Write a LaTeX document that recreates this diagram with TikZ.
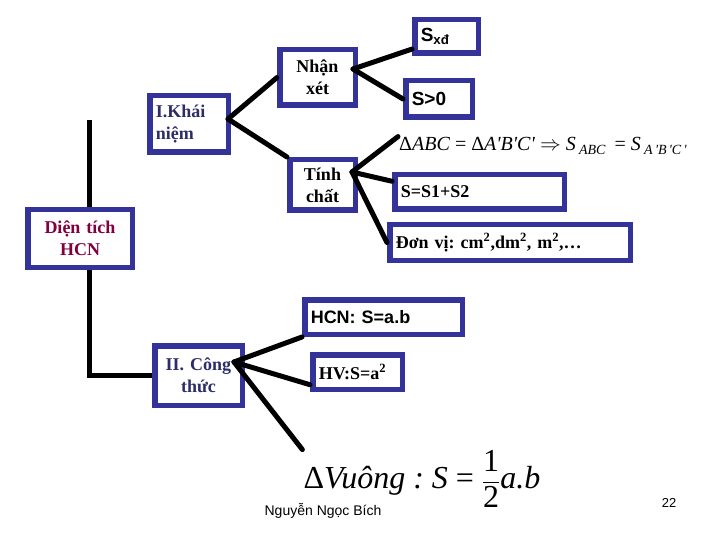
\documentclass[tikz,border=0pt]{standalone}
\usepackage{amsmath}
\usepackage{fontspec}
\setmainfont{Liberation Serif}
\newfontfamily\arial{Liberation Sans}
\usepackage{tikz}
\frenchspacing

\definecolor{boxblue}{RGB}{51,51,153}
\definecolor{navytext}{RGB}{45,45,105}
\definecolor{redtext}{RGB}{128,0,64}

\begin{document}
\begin{tikzpicture}[x=1pt, y=-1pt,
    box/.style={draw=boxblue, line width=5.5pt, fill=white, inner xsep=6pt,
      inner ysep=2pt, font=\fontsize{18}{22}\selectfont\bfseries},
    link/.style={line width=5pt, line cap=round}]
    \useasboundingbox (0,0) rectangle (720,540);
    % Boxes
    \node[box, font=\fontsize{19}{22}\selectfont\arial\bfseries, align=left,
      text width=51.5pt, minimum height=33.5pt] (sxd) at (446.5,36.5)
      {S\textsubscript{x\dj}};
    \node[box, align=center, text width=63.5pt, minimum height=55.5pt]
      (nhanxet) at (317.5,77.5) {Nhận\\xét};
    \node[box, font=\fontsize{19}{22}\selectfont\arial\bfseries, align=left,
      text width=54.5pt, minimum height=36.5pt] (szero) at (439,99) {S>0};
    \node[box, text=navytext, align=left, text width=66.5pt,
      minimum height=56.5pt] (khainiem) at (189,124) {I.Khái\\niệm};
    \node[box, align=center, text width=53.5pt, minimum height=50.5pt]
      (tinhchat) at (322.5,185) {Tính\\chất};
    \node[box, align=left, text width=157.5pt, minimum height=34.5pt]
      (stong) at (479.5,192) {S=S1+S2};
    \node[box, align=left, text width=228.5pt, minimum height=35.5pt]
      (donvi) at (510,242.5)
      {Đơn vị: cm\textsuperscript{2},dm\textsuperscript{2}, m\textsuperscript{2},…};
    \node[box, text=redtext, align=center, text width=92.5pt,
      minimum height=57.5pt] (dientich) at (80,238.5) {Diện tích\\HCN};
    \node[box, font=\fontsize{18}{22}\selectfont\arial\bfseries, align=left,
      text width=145.5pt, minimum height=34.5pt] (hcn) at (383.5,317)
      {HCN: S=a.b};
    \node[box, align=left, text width=77.5pt, minimum height=34.5pt]
      (hv) at (357.5,372) {HV:S=a\textsuperscript{2}};
    \node[box, text=navytext, align=center, text width=75.5pt,
      minimum height=59.5pt] (congthuc) at (198.5,375.5) {II. Công\\thức};
    % Formulas
    \node[anchor=west, inner sep=1pt, font=\fontsize{20}{24}\selectfont]
      (abc) at (398,146)
      {Δ\textit{ABC} = Δ\textit{A\textquotesingle B\textquotesingle C\textquotesingle}
       $\Rightarrow$ \textit{S}\,\textsubscript{\textit{ABC}}\, =
       \textit{S}\,\textsubscript{\textit{A\,\textquotesingle B\,\textquotesingle C\,\textquotesingle}}};
    \node[inner sep=1pt, font=\fontsize{32}{36}\selectfont]
      (vuong) at (422,479)
      {Δ\textit{Vuông : S} = $\dfrac{\textup{1}}{\textup{2}}$\textit{a.b}};
    \node[font=\fontsize{14}{16}\selectfont\arial] (tacgia) at (323,511)
      {Nguyễn Ngọc Bích};
    \node[font=\fontsize{13}{16}\selectfont\arial] (trang) at (669,503) {22};
    % Trunk
    \coordinate (goc) at (89,120);
    \draw[line width=5pt] (goc) -- (goc |- dientich.north);
    \draw[line width=5pt] (goc |- dientich.south) |- (congthuc.west);
    % Branches
    \coordinate (kn) at (228,119);
    \coordinate (nx) at (353,69);
    \coordinate (tc) at (352,172);
    \coordinate (ct) at (234,362);
    \draw[link] (kn) -- (nhanxet.west);
    \draw[link] (kn) -- (tinhchat.north west);
    \draw[link] (nx) -- (sxd.200);
    \draw[link] (nx) -- (szero.west);
    \draw[link] (tc) -- (abc.north west);
    \draw[link] (tc) -- (stong.173);
    \draw[link] (tc) -- (donvi.west);
    \draw[link] (ct) -- (hcn.south west);
    \draw[link] (ct) -- (hv.195);
    \draw[link] (ct) -- (vuong.north west);
\end{tikzpicture}
\end{document}
